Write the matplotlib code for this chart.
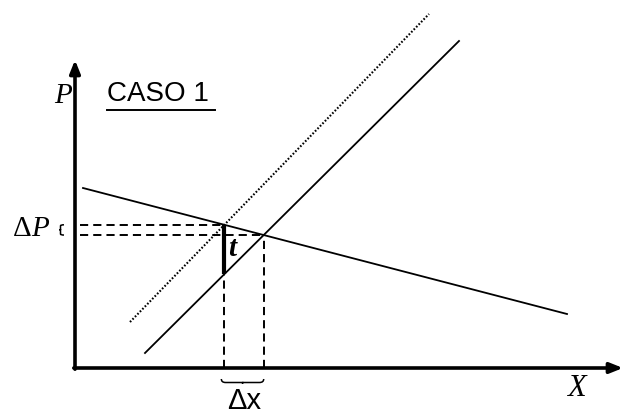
import matplotlib
matplotlib.use("Agg")
import matplotlib.pyplot as plt
from matplotlib.path import Path
from matplotlib.patches import PathPatch

# diagram units: origin at the axes corner, x to the right, y upwards
demand_x = [8, 492]
demand_y = [180, 54]
supply_x = [70, 384]
supply_y = [15, 327]
supply_tax_x = [55, 354]
supply_tax_y = [46, 354]
axis_x_end = 548
axis_y_end = 308

SERIF = "Liberation Serif"
SANS = "Liberation Sans"


def line_coef(xs, ys):
    m = (ys[1] - ys[0]) / (xs[1] - xs[0])
    return m, ys[0] - m * xs[0]


def cross(a, b):
    m1, c1 = a
    m2, c2 = b
    x = (c2 - c1) / (m1 - m2)
    return x, m1 * x + c1


def brace(ax, x0, y0, x1, y1, depth, lw=1.1):
    # small curly brace from (x0,y0) to (x1,y1), bulging by depth on its normal
    dx, dy = x1 - x0, y1 - y0
    L = (dx ** 2 + dy ** 2) ** 0.5
    nx, ny = -dy / L * depth, dx / L * depth
    mx, my = (x0 + x1) / 2, (y0 + y1) / 2
    verts = [
        (x0, y0),
        (x0 + nx * 0.7, y0 + ny * 0.7),
        (x0 + dx * 0.1 + nx * 0.7, y0 + dy * 0.1 + ny * 0.7),
        (mx + nx * 0.7, my + ny * 0.7),
        (mx + nx, my + ny),
        (mx + nx * 0.7, my + ny * 0.7),
        (x1 - dx * 0.1 + nx * 0.7, y1 - dy * 0.1 + ny * 0.7),
        (x1 + nx * 0.7, y1 + ny * 0.7),
        (x1, y1),
    ]
    codes = [Path.MOVETO, Path.CURVE3, Path.CURVE3, Path.LINETO, Path.LINETO,
             Path.MOVETO, Path.LINETO, Path.CURVE3, Path.CURVE3]
    ax.add_patch(PathPatch(Path(verts, codes), fill=False, lw=lw, color="k"))


fig = plt.figure(figsize=(6.23, 4.15), dpi=100)
ax = fig.add_axes([0, 0, 1, 1])
ax.set_xlim(-75, 548)
ax.set_ylim(-47, 368)
ax.axis("off")

# axes with arrows
arrow = dict(arrowstyle="-|>,head_length=0.55,head_width=0.22", lw=2.6,
             color="k", mutation_scale=14, shrinkA=0, shrinkB=0)
ax.annotate("", xy=(0, axis_y_end), xytext=(0, -1.2), arrowprops=arrow)
ax.annotate("", xy=(axis_x_end, 0), xytext=(-1.2, 0), arrowprops=arrow)

# curves
ax.plot(demand_x, demand_y, color="k", lw=1.3)
ax.plot(supply_x, supply_y, color="k", lw=1.3)
ax.plot(supply_tax_x, supply_tax_y, color="k", lw=1.5, ls=(0, (0.8, 0.9)))

d = line_coef(demand_x, demand_y)
s = line_coef(supply_x, supply_y)
st = line_coef(supply_tax_x, supply_tax_y)
x_tax, p_tax = cross(d, st)
x_eq, p_eq = cross(d, s)
p_low = s[0] * x_tax + s[1]

dash = dict(color="k", lw=1.4, ls=(0, (4.2, 2.6)))
ax.plot([5, x_tax], [p_tax, p_tax], **dash)
ax.plot([5, x_eq], [p_eq, p_eq], **dash)
ax.plot([x_tax, x_tax], [0, p_low], **dash)
ax.plot([x_eq, x_eq], [0, p_eq], **dash)

# tax wedge
ax.plot([x_tax, x_tax], [p_tax, p_low], color="k", lw=3.0, solid_capstyle="butt")
ax.text(x_tax + 4, (p_tax + p_low) / 2 + 1, "t", family=SERIF, style="italic",
        weight="bold", fontsize=21, ha="left", va="center")

# braces
brace(ax, x_tax - 3, -11, x_eq, -11, -5)
brace(ax, -11, p_eq, -11, p_tax, 5)

# labels
ax.text(-3, 272, "P", family=SERIF, style="italic", fontsize=21,
        ha="right", va="center")
ax.text(501, -20, "X", family=SERIF, style="italic", fontsize=22,
        ha="center", va="center")
ax.text(-43, (p_tax + p_eq) / 2 + 1, "Δ", family=SERIF, fontsize=21,
        ha="right", va="center")
ax.text(-44, (p_tax + p_eq) / 2 + 1, "P", family=SERIF, style="italic",
        fontsize=21, ha="left", va="center")
ax.text(0.5 * (x_tax + x_eq), -33, "Δx", family=SANS, fontsize=21,
        ha="center", va="center")
ax.text(32, 274, "CASO 1", family=SANS, fontsize=20, ha="left", va="center")
ax.plot([32, 140], [258, 258], color="k", lw=1.4)

fig.savefig("out.png", dpi=100)
